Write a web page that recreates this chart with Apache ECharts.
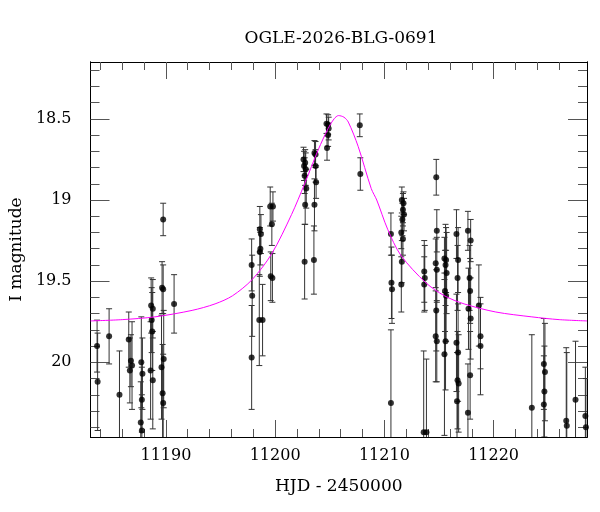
<!DOCTYPE html>
<html>
<head>
<meta charset="utf-8">
<script src="https://cdn.jsdelivr.net/npm/echarts@6/dist/echarts.min.js"></script>
<style>
  html, body { margin: 0; padding: 0; background: #fff; }
  #chart { width: 600px; height: 512px; }
</style>
</head>
<body>
<div id="chart"></div>
<script>
// photometry points: HJD - 2450000, I magnitude, error
var hjd = [
  11183.7, 11183.75, 11184.8, 11185.75,
  11186.6, 11186.8, 11186.9, 11186.7,
  11187.75, 11187.85, 11187.8, 11187.7, 11187.8,
  11188.65, 11188.8, 11188.7, 11188.75, 11188.6, 11188.8,
  11189.75, 11189.65, 11189.75, 11189.8, 11189.6, 11189.7, 11189.75,
  11190.75,
  11197.85, 11197.9, 11197.85,
  11198.6, 11198.7, 11198.65, 11198.6, 11198.55, 11198.85,
  11199.55, 11199.8, 11199.7, 11199.6, 11199.75,
  11202.6, 11202.75, 11202.65, 11202.8, 11202.7, 11202.85, 11202.75, 11202.7,
  11203.6, 11203.7, 11203.7, 11203.75, 11203.6, 11203.55,
  11204.7, 11204.85, 11204.9, 11204.85, 11204.75,
  11207.75, 11207.8,
  11210.6, 11210.65, 11210.7, 11210.6,
  11211.6, 11211.75, 11211.7, 11211.8, 11211.65, 11211.55, 11211.7, 11211.6, 11211.55,
  11213.65, 11213.7, 11213.65, 11213.6, 11213.85,
  11214.75, 11214.8, 11214.7, 11214.8, 11214.75, 11214.7, 11214.8,
  11215.5, 11215.65, 11215.6, 11215.7, 11215.55, 11215.65, 11215.6, 11215.5,
  11216.6, 11216.75, 11216.7, 11216.6, 11216.75, 11216.7, 11216.8, 11216.65,
  11217.65, 11217.9, 11217.8, 11217.85, 11217.7, 11217.9, 11217.85, 11217.65,
  11218.65, 11218.8, 11218.8,
  11223.5, 11224.6, 11224.7, 11224.65, 11224.6,
  11226.65, 11226.7, 11227.5, 11228.4, 11228.45
];
var mag = [
  19.90, 20.12, 19.84, 20.20,
  19.86, 19.99, 20.02, 20.05,
  20.00, 20.07, 20.23, 20.37, 20.42,
  19.65, 19.67, 19.74, 19.81, 20.05, 20.11,
  19.12, 19.54, 19.55, 19.98, 20.03, 20.19, 20.25,
  19.64,
  19.40, 19.59, 19.97,
  19.18, 19.21, 19.30, 19.32, 19.74, 19.74,
  19.04, 19.04, 19.15, 19.47, 19.48,
  18.75, 18.77, 18.79, 18.81, 18.85, 18.93, 19.03, 19.38,
  18.71, 18.72, 18.79, 18.89, 19.03, 19.37,
  18.53, 18.535, 18.56, 18.60, 18.68,
  18.54, 18.84,
  19.21, 19.51, 19.55, 20.25,
  19.00, 19.02, 19.06, 19.09, 19.12, 19.20, 19.24, 19.38, 19.52,
  19.44, 19.48, 19.52, 20.43, 20.43,
  18.86, 19.19, 19.39, 19.43, 19.68, 19.84, 19.87,
  19.36, 19.37, 19.40, 19.45, 19.56, 19.59, 19.87, 19.95,
  19.21, 19.37, 19.48, 19.88, 19.94, 20.11, 20.13, 20.24,
  19.19, 19.25, 19.48, 19.56, 19.67, 19.73, 20.08, 20.31,
  19.65, 19.84, 19.90,
  20.28, 20.01, 20.06, 20.18, 20.26,
  20.36, 20.39, 20.23, 20.33, 20.40
];
var magErr = [
  0.16, 0.30, 0.17, 0.27,
  0.17, 0.16, 0.27, 0.20,
  0.28, 0.22, 0.20, 0.25, 0.22,
  0.17, 0.18, 0.20, 0.24, 0.30, 0.30,
  0.10, 0.16, 0.15, 0.30, 0.32, 0.30, 0.30,
  0.18,
  0.16, 0.25, 0.32,
  0.14, 0.12, 0.10, 0.15, 0.28, 0.22,
  0.12, 0.09, 0.13, 0.15, 0.15,
  0.075, 0.08, 0.09, 0.10, 0.11, 0.12, 0.12, 0.23,
  0.076, 0.08, 0.10, 0.10, 0.16, 0.21,
  0.06, 0.06, 0.07, 0.07, 0.075,
  0.07, 0.10,
  0.13, 0.22, 0.21, 0.45,
  0.08, 0.07, 0.10, 0.10, 0.10, 0.10, 0.10, 0.13, 0.17,
  0.19, 0.20, 0.17, 0.50, 0.45,
  0.11, 0.13, 0.15, 0.20, 0.25, 0.28, 0.25,
  0.13, 0.20, 0.25, 0.25, 0.25, 0.28, 0.30, 0.50,
  0.15, 0.20, 0.20, 0.30, 0.30, 0.30, 0.30, 0.30,
  0.12, 0.13, 0.20, 0.20, 0.25, 0.25, 0.27, 0.30,
  0.25, 0.20, 0.30,
  0.45, 0.28, 0.30, 0.28, 0.30,
  0.45, 0.45, 0.36, 0.30, 0.30
];

// model curve
var modelHjd = [11183.1, 11186, 11189, 11192.4, 11194.5, 11196.1, 11197.9, 11199.7, 11201.5,
  11202.7, 11203.95, 11204.85, 11205.4, 11205.8, 11206.3, 11206.7, 11207.6, 11208.8, 11209.3,
  11210.3, 11211.5, 11213.8, 11215.5, 11217.3, 11220.2, 11223.5, 11226, 11228.55];
var modelMag = [19.745, 19.737, 19.72, 19.68, 19.64, 19.59, 19.49, 19.33, 19.09,
  18.90, 18.69, 18.56, 18.50, 18.48, 18.49, 18.52, 18.67, 18.93, 19.00,
  19.18, 19.34, 19.51, 19.59, 19.64, 19.69, 19.72, 19.737, 19.745];

var xMajorTicks = [11190, 11200, 11210, 11220];
var xMinorTicks = [11184, 11186, 11188, 11192, 11194, 11196, 11198, 11202, 11204, 11206, 11208,
  11212, 11214, 11216, 11218, 11222, 11224, 11226];
var yMajorTicks = [18.5, 19, 19.5, 20];
var yMinorTicks = [18.2, 18.3, 18.4, 18.6, 18.7, 18.8, 18.9, 19.1, 19.2, 19.3, 19.4,
  19.6, 19.7, 19.8, 19.9, 20.1, 20.2, 20.3, 20.4];

var xMin = 11183.1, xMax = 11228.55;
var yMin = 18.15, yMax = 20.46;
var font = 'DejaVu Serif';

var points = [], bars = [], model = [];
for (var i = 0; i < hjd.length; i++) {
  points.push([hjd[i], mag[i]]);
  bars.push([hjd[i], mag[i], magErr[i]]);
}
for (var j = 0; j < modelHjd.length; j++) model.push([modelHjd[j], modelMag[j]]);

function plain(v) { return String(v); }

function xAxisDef(pos, ticks, len, labels) {
  return {
    type: 'value', position: pos, min: xMin, max: xMax,
    axisLine: { show: true, onZero: false, lineStyle: { color: '#000', width: 1 } },
    axisTick: { show: true, inside: true, length: len, customValues: ticks, lineStyle: { color: '#555' } },
    axisLabel: labels ? { show: true, customValues: xMajorTicks, margin: 11, formatter: plain,
      fontFamily: font, fontSize: 16, color: '#000' } : { show: false },
    splitLine: { show: false }
  };
}
function yAxisDef(pos, ticks, len, labels) {
  return {
    type: 'value', position: pos, inverse: true, min: yMin, max: yMax,
    axisLine: { show: true, onZero: false, lineStyle: { color: '#000', width: 1 } },
    axisTick: { show: true, inside: true, length: len, customValues: ticks, lineStyle: { color: '#555' } },
    axisLabel: labels ? { show: true, customValues: yMajorTicks, margin: 19, formatter: plain,
      fontFamily: font, fontSize: 16, color: '#000' } : { show: false },
    splitLine: { show: false }
  };
}

var xAxes = [
  xAxisDef('bottom', xMajorTicks, 17, true),
  xAxisDef('bottom', xMinorTicks, 8, false),
  xAxisDef('top', xMajorTicks, 17, false),
  xAxisDef('top', xMinorTicks, 8, false)
];
xAxes[0].name = 'HJD - 2450000';
xAxes[0].nameLocation = 'middle';
xAxes[0].nameGap = 41;
xAxes[0].nameTextStyle = { fontFamily: font, fontSize: 17, color: '#000' };

var yAxes = [
  yAxisDef('left', yMajorTicks, 19, true),
  yAxisDef('left', yMinorTicks, 9, false),
  yAxisDef('right', yMajorTicks, 19, false),
  yAxisDef('right', yMinorTicks, 9, false)
];
yAxes[0].name = 'I magnitude';
yAxes[0].nameLocation = 'middle';
yAxes[0].nameGap = 52;
yAxes[0].nameRotate = 90;
yAxes[0].nameTextStyle = { fontFamily: font, fontSize: 17, color: '#000' };

var chart = echarts.init(document.getElementById('chart'), null, { renderer: 'canvas' });
chart.setOption({
  backgroundColor: '#fff',
  animation: false,
  title: {
    text: 'OGLE-2026-BLG-0691', left: 336, top: 25, textAlign: 'center',
    textStyle: { fontFamily: font, fontSize: 17, fontWeight: 'normal', color: '#000' }
  },
  grid: { left: 87, right: 13, top: 62, bottom: 75, containLabel: false },
  xAxis: xAxes,
  yAxis: yAxes,
  series: [
    {
      type: 'custom', xAxisIndex: 0, yAxisIndex: 0, clip: true, data: bars,
      renderItem: function (params, api) {
        var t = api.value(0), m = api.value(1), e = api.value(2);
        var a = api.coord([t, m - e]), b = api.coord([t, m + e]);
        var st = { stroke: '#333', lineWidth: 1 };
        return { type: 'group', children: [
          { type: 'line', shape: { x1: a[0], y1: a[1], x2: b[0], y2: b[1] }, style: st },
          { type: 'line', shape: { x1: a[0] - 3, y1: a[1], x2: a[0] + 3, y2: a[1] }, style: st },
          { type: 'line', shape: { x1: b[0] - 3, y1: b[1], x2: b[0] + 3, y2: b[1] }, style: st }
        ] };
      }
    },
    {
      type: 'line', xAxisIndex: 0, yAxisIndex: 0, data: model, smooth: 0.3,
      showSymbol: false, clip: true,
      lineStyle: { color: '#ff00ff', width: 1 }
    },
    {
      type: 'scatter', xAxisIndex: 0, yAxisIndex: 0, data: points, symbolSize: 6,
      itemStyle: { color: '#000' }, clip: true
    }
  ]
});
</script>
</body>
</html>
